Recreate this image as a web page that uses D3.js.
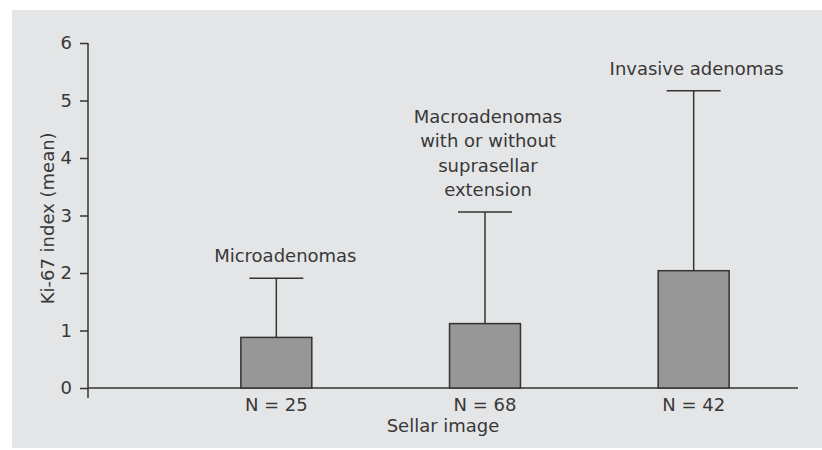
<!DOCTYPE html>
<meta charset="utf-8">
<style>
    body { margin: 0; background: #fff; }
    text { font-family: "DejaVu Sans", sans-serif; font-size: 18px; fill: #383838; }
    .axis path, .axis line { stroke: #333; stroke-width: 1.5px; }
    .bar { fill: #979797; stroke: #333; stroke-width: 1.5px; }
    .err { stroke: #333; stroke-width: 1.5px; fill: none; }
</style>
<svg width="822" height="450"></svg>
<script src="https://d3js.org/d3.v7.min.js"></script>
<script>

    // data
    const groups = ["Micro", "Macro", "Invasive"];
    const meanKi67 = [0.88, 1.12, 2.04];
    const upperErr = [1.91, 3.06, 5.17];
    const nLabels = ["N = 25", "N = 68", "N = 42"];
    const groupLabels = [
        ["Microadenomas"],
        ["Macroadenomas", "with or without", "suprasellar", "extension"],
        ["Invasive adenomas"]
    ];
    const yTicks = [0, 1, 2, 3, 4, 5, 6];

    var svg = d3.select("svg");

    // grey panel behind the chart
    svg.append("rect")
        .attr("x", 12).attr("y", 10)
        .attr("width", 810).attr("height", 438)
        .attr("fill", "#e4e5e7");

    var y = d3.scaleLinear().domain([0, 6]).range([388, 43]);

    var x = d3.scaleBand()
        .domain(groups)
        .range([172, 798])
        .paddingInner(0.66)
        .paddingOuter(0.33);

    var axisX0 = 88;

    // y axis
    var yAxis = svg.append("g")
        .attr("class", "axis")
        .attr("transform", "translate(" + axisX0 + ",0)")
        .call(d3.axisLeft(y).tickValues(yTicks).tickFormat(d3.format("d"))
            .tickSize(8).tickPadding(8).tickSizeOuter(0));
    yAxis.select(".domain").remove();
    yAxis.selectAll("text").style("font-size", "18px").attr("fill", "#383838");
    yAxis.append("line")
        .attr("x1", 0).attr("x2", 0)
        .attr("y1", y(6)).attr("y2", y(0) + 10);

    // x baseline
    svg.append("line")
        .attr("class", "err")
        .attr("x1", axisX0).attr("x2", x.range()[1])
        .attr("y1", y(0)).attr("y2", y(0));

    var data = groups.map(function(g, i) {
        return { key: g, mean: meanKi67[i], hi: upperErr[i], n: nLabels[i], label: groupLabels[i] };
    });

    var cx = function(d) { return x(d.key) + x.bandwidth() / 2; };
    var capHalf = 27;

    // error bars (upper only)
    svg.selectAll(".errv").data(data).enter()
        .append("line").attr("class", "err")
        .attr("x1", cx).attr("x2", cx)
        .attr("y1", function(d) { return y(d.mean); })
        .attr("y2", function(d) { return y(d.hi); });

    svg.selectAll(".errcap").data(data).enter()
        .append("line").attr("class", "err")
        .attr("x1", function(d) { return cx(d) - capHalf; })
        .attr("x2", function(d) { return cx(d) + capHalf; })
        .attr("y1", function(d) { return y(d.hi); })
        .attr("y2", function(d) { return y(d.hi); });

    // bars
    svg.selectAll(".bar").data(data).enter()
        .append("rect").attr("class", "bar")
        .attr("x", function(d) { return x(d.key); })
        .attr("width", x.bandwidth())
        .attr("y", function(d) { return y(d.mean); })
        .attr("height", function(d) { return y(0) - y(d.mean); });

    // N labels under bars
    svg.selectAll(".nlab").data(data).enter()
        .append("text")
        .attr("x", cx)
        .attr("y", y(0) + 23)
        .attr("text-anchor", "middle")
        .text(function(d) { return d.n; });

    // group labels above error caps
    var lineH = 24.3;
    var labelX = function(d) { return cx(d) + (d.key === "Micro" ? 9 : 3); };
    svg.selectAll(".glab").data(data).enter()
        .append("text")
        .attr("text-anchor", "middle")
        .attr("y", function(d) { return y(d.hi) - 16 - (d.label.length - 1) * lineH; })
        .selectAll("tspan")
        .data(function(d) { return d.label.map(function(s) { return { s: s, x: labelX(d) }; }); })
        .enter().append("tspan")
        .attr("x", function(t) { return t.x; })
        .attr("dy", function(t, j) { return j === 0 ? 0 : lineH; })
        .text(function(t) { return t.s; });

    // axis titles
    svg.append("text")
        .attr("text-anchor", "middle")
        .attr("transform", "translate(54," + y(2.95) + ") rotate(-90)")
        .text("Ki-67 index (mean)");

    svg.append("text")
        .attr("text-anchor", "middle")
        .attr("x", (axisX0 + x.range()[1]) / 2)
        .attr("y", 432)
        .text("Sellar image");

</script>
